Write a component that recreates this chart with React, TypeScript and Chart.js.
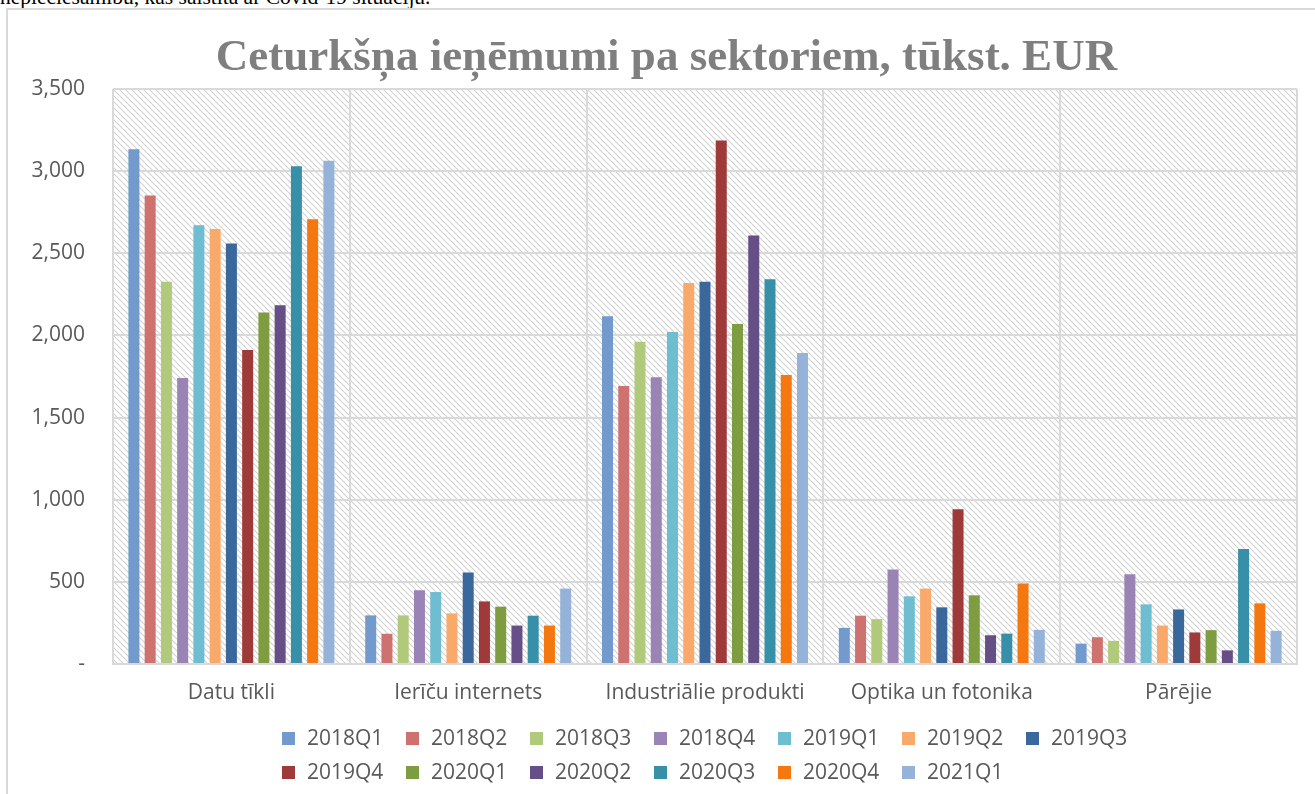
import React, { useEffect, useRef } from "react";
import { Chart, registerables } from "chart.js";

Chart.register(...registerables);

const categories = ["Datu tīkli", "Ierīču internets", "Industriālie produkti", "Optika un fotonika", "Pārējie"];

const s2018Q1 = [3133, 296, 2117, 220, 124];
const s2018Q2 = [2851, 184, 1692, 294, 163];
const s2018Q3 = [2327, 296, 1962, 273, 141];
const s2018Q4 = [1741, 449, 1745, 575, 547];
const s2019Q1 = [2671, 438, 2021, 412, 363];
const s2019Q2 = [2648, 308, 2319, 459, 234];
const s2019Q3 = [2559, 557, 2326, 345, 332];
const s2019Q4 = [1912, 381, 3186, 942, 192];
const s2020Q1 = [2139, 349, 2070, 418, 206];
const s2020Q2 = [2184, 234, 2608, 175, 83];
const s2020Q3 = [3030, 294, 2342, 185, 700];
const s2020Q4 = [2707, 234, 1759, 490, 369];
const s2021Q1 = [3064, 459, 1893, 208, 202];

const seriesLabels = ["2018Q1", "2018Q2", "2018Q3", "2018Q4", "2019Q1", "2019Q2", "2019Q3", "2019Q4", "2020Q1", "2020Q2", "2020Q3", "2020Q4", "2021Q1"];
const seriesValues = [s2018Q1, s2018Q2, s2018Q3, s2018Q4, s2019Q1, s2019Q2, s2019Q3, s2019Q4, s2020Q1, s2020Q2, s2020Q3, s2020Q4, s2021Q1];
const seriesColors = ["#729ACC", "#CE7270", "#B0C97B", "#9A84B6", "#6FBDD1", "#F9AA6B", "#3A679C", "#9E3A3A", "#7E9C40", "#654F86", "#3790A8", "#F4780F", "#95B3D8"];

const yTicks = [0, 500, 1000, 1500, 2000, 2500, 3000, 3500];

const titleText = "Ceturkšņa ieņēmumi pa sektoriem, tūkst. EUR";
const topText = "nepieciešamību, kas saistīta ar Covid-19 situāciju.";

const TEXT_COLOR = "#595959";
const GRID_COLOR = "#D9D9D9";
const SANS = "'Open Sans', 'Noto Sans', sans-serif";
const FONT_SIZE = 21;

function makePattern(): CanvasPattern | string {
  const c = document.createElement("canvas");
  c.width = 6;
  c.height = 6;
  const g = c.getContext("2d");
  if (!g) return "#f4f4f4";
  g.fillStyle = "#ffffff";
  g.fillRect(0, 0, 6, 6);
  g.strokeStyle = "#d2d2d2";
  g.lineWidth = 1.1;
  g.beginPath();
  g.moveTo(-1, -1);
  g.lineTo(7, 7);
  g.moveTo(-1, 5);
  g.lineTo(1, 7);
  g.moveTo(5, -1);
  g.lineTo(7, 1);
  g.stroke();
  const p = g.createPattern(c, "repeat");
  return p || "#f4f4f4";
}

const hatchPlugin = {
  id: "hatchBg",
  beforeDraw(chart: any) {
    const { ctx, chartArea } = chart;
    if (!chartArea) return;
    ctx.save();
    ctx.fillStyle = makePattern();
    ctx.fillRect(chartArea.left, chartArea.top, chartArea.right - chartArea.left, chartArea.bottom - chartArea.top);
    ctx.restore();
  },
};

const titlePlugin = {
  id: "excelTitle",
  afterDraw(chart: any) {
    const { ctx } = chart;
    ctx.save();
    ctx.font = `bold 45px 'Liberation Serif', serif`;
    ctx.fillStyle = "#7F7F7F";
    ctx.textAlign = "center";
    ctx.textBaseline = "alphabetic";
    ctx.fillText(titleText, 666.5, 70);
    ctx.restore();
  },
};

const legendPlugin = {
  id: "gridLegend",
  afterDraw(chart: any) {
    const { ctx } = chart;
    const perRow = 7;
    const startX = 282;
    const pitch = 124;
    const rowY = [738.5, 772.5];
    ctx.save();
    ctx.font = `${FONT_SIZE}px ${SANS}`;
    ctx.textBaseline = "middle";
    ctx.textAlign = "left";
    chart.data.datasets.forEach((ds: any, i: number) => {
      const row = Math.floor(i / perRow);
      const col = i % perRow;
      const x = startX + col * pitch;
      const y = rowY[row];
      ctx.fillStyle = ds.backgroundColor;
      ctx.fillRect(x, y - 6.5, 13, 13);
      ctx.fillStyle = TEXT_COLOR;
      ctx.fillText(ds.label, x + 25, y + 0.5);
    });
    ctx.restore();
  },
};

export default function App() {
  const ref = useRef<HTMLCanvasElement | null>(null);

  useEffect(() => {
    if (!ref.current) return;
    const chart = new Chart(ref.current, {
      type: "bar",
      data: {
        labels: categories,
        datasets: seriesLabels.map((label, i) => ({
          label,
          data: seriesValues[i],
          backgroundColor: seriesColors[i],
          borderWidth: 0,
          categoryPercentage: 0.892,
          barPercentage: 0.677,
        })),
      },
      options: {
        responsive: false,
        animation: false,
        layout: { padding: { left: 8, right: 18, top: 89, bottom: 0 } },
        plugins: {
          legend: { display: false },
          tooltip: { enabled: false },
          title: { display: false },
        },
        scales: {
          x: {
            grid: { color: GRID_COLOR, lineWidth: 2, drawTicks: false, offset: true },
            border: { color: GRID_COLOR, width: 2 },
            ticks: { color: TEXT_COLOR, font: { family: SANS, size: FONT_SIZE }, padding: 16, maxRotation: 0, autoSkip: false },
            afterFit(scale: any) {
              scale.height = 130;
            },
          },
          y: {
            min: 0,
            max: 3500,
            afterBuildTicks(scale: any) {
              scale.ticks = yTicks.map((v) => ({ value: v }));
            },
            grid: { color: GRID_COLOR, lineWidth: 2, drawTicks: false },
            border: { display: false },
            ticks: {
              color: TEXT_COLOR,
              font: { family: SANS, size: FONT_SIZE },
              padding: 28,
              callback: (v: any) => (Number(v) === 0 ? "-" : Number(v).toLocaleString("en-US")),
            },
            afterFit(scale: any) {
              scale.width = 105;
            },
          },
        },
      },
      plugins: [hatchPlugin, titlePlugin, legendPlugin],
    });
    return () => chart.destroy();
  }, []);

  return (
    <div style={{ position: "absolute", left: 0, top: 0, width: 1315, height: 794, overflow: "hidden", background: "#fff" }}>
      <div
        style={{
          position: "absolute",
          left: 0,
          top: -13.8,
          fontFamily: "'Liberation Serif', 'Times New Roman', serif",
          fontSize: 21.5,
          lineHeight: "22px",
          whiteSpace: "nowrap",
          color: "#000",
        }}
      >
        {topText}
      </div>
      <div
        style={{
          position: "absolute",
          left: 6,
          top: 8,
          width: 1400,
          height: 900,
          border: `2px solid ${GRID_COLOR}`,
          boxSizing: "border-box",
        }}
      />
      <canvas ref={ref} width={1315} height={794} style={{ position: "absolute", left: 0, top: 0, width: 1315, height: 794 }} />
    </div>
  );
}
